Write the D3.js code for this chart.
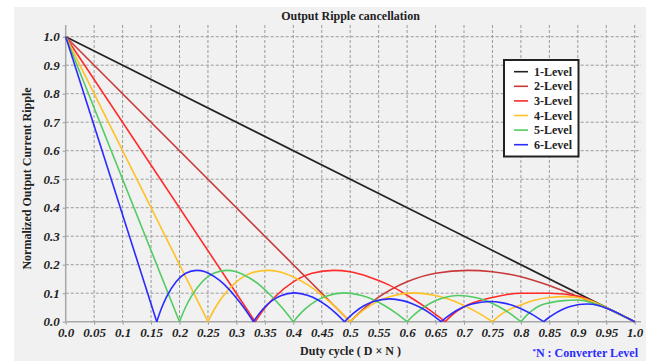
<!DOCTYPE html>
<html>
<head>
<meta charset="utf-8">
<script src="https://cdn.jsdelivr.net/npm/d3@7"></script>
<style>
  body { margin: 0; background: #ffffff; }
  svg text { font-family: "Liberation Serif", "Times New Roman", serif; }
</style>
</head>
<body>
<div id="vis"></div>
<script>
// datos: cada nivel es una lista de tramos [D, rizado]
const levelNames = ["1-Level", "2-Level", "3-Level", "4-Level", "5-Level", "6-Level"];

const level1 = [
  [[0, 1], [1, 0]]
];

const level2 = [
  [[0, 1], [0.5, 0]],
  [[0.5, 0], [0.525, 0.048], [0.55, 0.086], [0.6, 0.14], [0.65, 0.17], [0.707, 0.18], [0.75, 0.175],
   [0.8, 0.158], [0.85, 0.127], [0.9, 0.088], [0.95, 0.048], [0.975, 0.025], [1, 0]]
];

const level3 = [
  [[0, 1], [0.333, 0]],
  [[0.333, 0], [0.35, 0.048], [0.367, 0.086], [0.4, 0.14], [0.433, 0.17], [0.471, 0.18], [0.5, 0.175],
   [0.533, 0.157], [0.567, 0.13], [0.6, 0.093], [0.633, 0.05], [0.667, 0]],
  [[0.667, 0], [0.683, 0.03], [0.7, 0.052], [0.75, 0.085], [0.8, 0.1], [0.85, 0.1], [0.9, 0.09],
   [0.95, 0.049], [0.975, 0.025], [1, 0]]
];

const level4 = [
  [[0, 1], [0.25, 0]],
  [[0.25, 0], [0.2625, 0.048], [0.275, 0.086], [0.3, 0.14], [0.325, 0.17], [0.354, 0.18], [0.375, 0.175],
   [0.4, 0.157], [0.425, 0.13], [0.45, 0.093], [0.475, 0.05], [0.5, 0]],
  [[0.5, 0], [0.5125, 0.023], [0.525, 0.043], [0.55, 0.073], [0.575, 0.091], [0.612, 0.101], [0.65, 0.092],
   [0.675, 0.078], [0.7, 0.057], [0.725, 0.031], [0.75, 0]],
  [[0.75, 0], [0.76, 0.018], [0.775, 0.038], [0.8, 0.059], [0.825, 0.076], [0.85, 0.085], [0.875, 0.088],
   [0.9, 0.085], [0.925, 0.072], [0.95, 0.049], [0.975, 0.025], [1, 0]]
];

const level5 = [
  [[0, 1], [0.2, 0]],
  [[0.2, 0], [0.21, 0.048], [0.22, 0.086], [0.24, 0.14], [0.26, 0.17], [0.283, 0.18], [0.3, 0.175],
   [0.32, 0.157], [0.34, 0.13], [0.36, 0.093], [0.38, 0.05], [0.4, 0]],
  [[0.4, 0], [0.41, 0.023], [0.42, 0.043], [0.44, 0.073], [0.46, 0.091], [0.49, 0.101], [0.52, 0.092],
   [0.54, 0.078], [0.56, 0.057], [0.58, 0.031], [0.6, 0]],
  [[0.6, 0], [0.61, 0.02], [0.62, 0.037], [0.64, 0.064], [0.66, 0.081], [0.69, 0.092], [0.72, 0.085],
   [0.74, 0.073], [0.76, 0.054], [0.78, 0.03], [0.8, 0]],
  [[0.8, 0], [0.81, 0.022], [0.82, 0.04], [0.835, 0.058], [0.85, 0.066], [0.875, 0.074], [0.9, 0.076],
   [0.925, 0.066], [0.95, 0.048], [0.975, 0.025], [1, 0]]
];

const level6 = [
  [[0, 1], [0.16, 0]],
  [[0.16, 0], [0.1685, 0.048], [0.177, 0.086], [0.194, 0.14], [0.211, 0.17], [0.23, 0.18], [0.245, 0.175],
   [0.262, 0.157], [0.279, 0.13], [0.296, 0.093], [0.313, 0.05], [0.33, 0]],
  [[0.33, 0], [0.338, 0.023], [0.346, 0.043], [0.362, 0.073], [0.378, 0.091], [0.402, 0.101], [0.426, 0.092],
   [0.442, 0.078], [0.458, 0.057], [0.474, 0.031], [0.49, 0]],
  [[0.49, 0], [0.4985, 0.017], [0.507, 0.032], [0.524, 0.056], [0.541, 0.071], [0.569, 0.08], [0.592, 0.074],
   [0.609, 0.063], [0.626, 0.047], [0.643, 0.026], [0.66, 0]],
  [[0.66, 0], [0.669, 0.015], [0.678, 0.028], [0.696, 0.049], [0.714, 0.062], [0.745, 0.071], [0.768, 0.066],
   [0.786, 0.057], [0.804, 0.042], [0.822, 0.023], [0.84, 0]],
  [[0.84, 0], [0.848, 0.013], [0.856, 0.024], [0.872, 0.042], [0.888, 0.054], [0.916, 0.062], [0.936, 0.057],
   [0.952, 0.046], [0.968, 0.032], [0.984, 0.016], [1, 0]]
];

const levels = [level1, level2, level3, level4, level5, level6];

const xTicks = [0, 0.05, 0.1, 0.15, 0.2, 0.25, 0.3, 0.35, 0.4, 0.45, 0.5,
                0.55, 0.6, 0.65, 0.7, 0.75, 0.8, 0.85, 0.9, 0.95, 1.0];
const xTickLabels = ["0.0", "0.05", "0.1", "0.15", "0.2", "0.25", "0.3", "0.35", "0.4", "0.45", "0.5",
                     "0.55", "0.6", "0.65", "0.7", "0.75", "0.8", "0.85", "0.9", "0.95", "1.0"];
const yTicks = [0, 0.1, 0.2, 0.3, 0.4, 0.5, 0.6, 0.7, 0.8, 0.9, 1.0];
const yTickLabels = ["0.0", "0.1", "0.2", "0.3", "0.4", "0.5", "0.6", "0.7", "0.8", "0.9", "1.0"];

const colores = ["#222222", "#c83a3a", "#ff2b2b", "#ffc125", "#52cc62", "#2b2bff"];

const WIDTH = 655;
const HEIGHT = 361;

const PLOT = { left: 65.7, right: 634.7, top: 36.7, bottom: 321.7, gridRight: 641, gridTop: 25 };

const SVG = d3.select("#vis").append("svg")
    .attr("width", WIDTH)
    .attr("height", HEIGHT);

// fondo gris de la figura
SVG.append("rect")
    .attr("x", 14)
    .attr("y", 7)
    .attr("width", 632)
    .attr("height", HEIGHT - 7)
    .attr("fill", "#f1f1f1");

const xScale = d3.scaleLinear().domain([0, 1]).range([PLOT.left, PLOT.right]);
const yScale = d3.scaleLinear().domain([0, 1]).range([PLOT.bottom, PLOT.top]);

// grilla punteada
const grid = SVG.append("g");
grid.selectAll("line.v")
    .data(xTicks.slice(1))
    .join("line")
    .attr("class", "v")
    .attr("x1", d => xScale(d))
    .attr("x2", d => xScale(d))
    .attr("y1", PLOT.gridTop)
    .attr("y2", PLOT.bottom)
    .attr("stroke", "#9a9a9a")
    .attr("stroke-width", 1)
    .attr("stroke-dasharray", "3,2");

grid.selectAll("line.h")
    .data(yTicks.slice(1))
    .join("line")
    .attr("class", "h")
    .attr("x1", PLOT.left)
    .attr("x2", PLOT.gridRight)
    .attr("y1", d => yScale(d))
    .attr("y2", d => yScale(d))
    .attr("stroke", "#9a9a9a")
    .attr("stroke-width", 1)
    .attr("stroke-dasharray", "3,2");

// ejes
const ejeX = SVG.append("g")
    .attr("transform", `translate(0, ${PLOT.bottom})`)
    .call(d3.axisBottom(xScale).tickValues(xTicks).tickSize(3).tickPadding(3)
        .tickFormat((d, i) => xTickLabels[i]));

const ejeY = SVG.append("g")
    .attr("transform", `translate(${PLOT.left}, 0)`)
    .call(d3.axisLeft(yScale).tickValues(yTicks).tickSize(3).tickPadding(3)
        .tickFormat((d, i) => yTickLabels[i]));

[ejeX, ejeY].forEach(eje => {
    eje.select(".domain").remove();
    eje.selectAll(".tick line").attr("stroke", "#999");
    eje.selectAll(".tick text")
        .attr("fill", "#222")
        .attr("font-family", "Liberation Serif, serif")
        .attr("font-size", 13)
        .attr("font-weight", "bold")
        .attr("font-style", "italic");
});

SVG.append("line")
    .attr("x1", PLOT.left).attr("x2", PLOT.gridRight)
    .attr("y1", PLOT.bottom).attr("y2", PLOT.bottom)
    .attr("stroke", "#a8a8a8").attr("stroke-width", 1.5);

SVG.append("line")
    .attr("x1", PLOT.left).attr("x2", PLOT.left)
    .attr("y1", PLOT.gridTop).attr("y2", PLOT.bottom)
    .attr("stroke", "#a8a8a8").attr("stroke-width", 1.5);

// curvas
const linea = d3.line()
    .x(d => xScale(d[0]))
    .y(d => yScale(d[1]));

const curvas = SVG.append("g");
levels.forEach((tramos, i) => {
    tramos.forEach(tramo => {
        curvas.append("path")
            .attr("d", linea.curve(tramo.length > 2 ? d3.curveMonotoneX : d3.curveLinear)(tramo))
            .attr("fill", "none")
            .attr("stroke", colores[i])
            .attr("stroke-width", 1.6);
    });
});

// titulos
SVG.append("text")
    .text("Output Ripple cancellation")
    .attr("x", 350.5)
    .attr("y", 20)
    .attr("text-anchor", "middle")
    .attr("font-size", 12)
    .attr("font-weight", "bold")
    .attr("fill", "#222");

SVG.append("text")
    .text("Normalized Output Current Ripple")
    .attr("transform", "rotate(270)")
    .attr("x", -178.5)
    .attr("y", 31)
    .attr("text-anchor", "middle")
    .attr("font-size", 12)
    .attr("font-weight", "bold")
    .attr("fill", "#222");

SVG.append("text")
    .text("Duty cycle ( D × N )")
    .attr("x", 350.5)
    .attr("y", 355)
    .attr("text-anchor", "middle")
    .attr("font-size", 12)
    .attr("font-weight", "bold")
    .attr("fill", "#222");

const nota = SVG.append("text")
    .attr("x", 638)
    .attr("y", 357)
    .attr("text-anchor", "end")
    .attr("font-size", 12)
    .attr("font-weight", "bold")
    .attr("fill", "#2b2bff");
nota.append("tspan").text("*").attr("font-size", 7).attr("dy", -4);
nota.append("tspan").text("N : Converter Level").attr("dy", 4);

// leyenda
const leyenda = SVG.append("g").attr("transform", "translate(504, 60)");

leyenda.append("rect")
    .attr("width", 74.5)
    .attr("height", 96.5)
    .attr("fill", "white")
    .attr("stroke", "#222")
    .attr("stroke-width", 2);

leyenda.selectAll("g.item")
    .data(levelNames)
    .join("g")
    .attr("class", "item")
    .attr("transform", (d, i) => `translate(0, ${11.7 + i * 14.6})`)
    .each(function(d, i) {
        d3.select(this).append("line")
            .attr("x1", 10)
            .attr("x2", 24)
            .attr("stroke", colores[i])
            .attr("stroke-width", 1.6);

        d3.select(this).append("text")
            .attr("x", 30)
            .attr("y", 4)
            .attr("font-size", 12)
            .attr("font-weight", "bold")
            .attr("fill", "#222")
            .text(d);
    });
</script>
</body>
</html>
